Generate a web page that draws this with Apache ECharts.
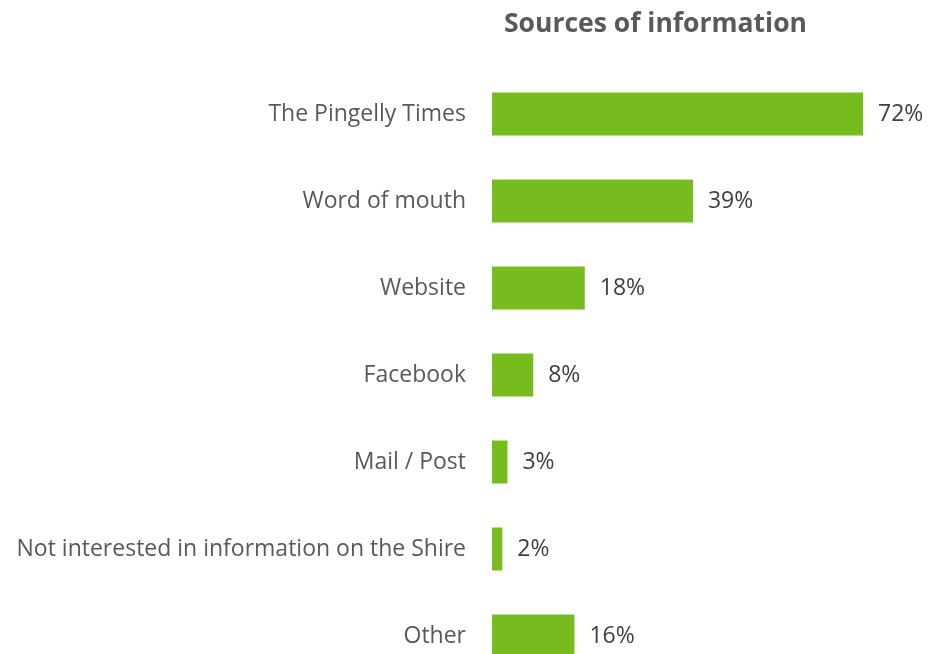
<!DOCTYPE html>
<html><head><meta charset="utf-8">
<script src="https://cdn.jsdelivr.net/npm/echarts@6/dist/echarts.min.js"></script>
<style>html,body{margin:0;padding:0;background:#fff}#c{width:928px;height:654px}</style>
</head><body><div id="c"></div>
<script>
const categories = ["The Pingelly Times","Word of mouth","Website","Facebook","Mail / Post","Not interested in information on the Shire","Other"];
const values = [72,39,18,8,3,2,16];
const chart = echarts.init(document.getElementById('c'));
chart.setOption({
  animation:false,
  title:{text:'Sources of information',left:650.5,top:6,textAlign:'center',
    textStyle:{fontFamily:'Open Sans',fontWeight:'bold',fontSize:26.5,color:'#595959'}},
  grid:{left:492,top:70.5,width:515.3,height:609,containLabel:false,outerBoundsMode:'none'},
  xAxis:{type:'value',min:0,max:100,show:false},
  yAxis:{type:'category',data:categories,inverse:true,
    axisLine:{show:false},axisTick:{show:false},
    axisLabel:{margin:26,fontFamily:'Open Sans',fontSize:23,color:'#595959'}},
  series:[{type:'bar',data:values,barWidth:43,itemStyle:{color:'#77BC1F'},
    label:{show:true,position:'right',distance:15,formatter:'{c}%',fontFamily:'Open Sans',fontSize:23,color:'#404040'}}]
});
</script></body></html>
